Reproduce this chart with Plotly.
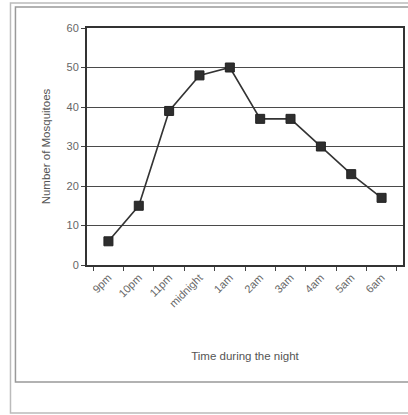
import plotly.graph_objects as go

times = ["9pm", "10pm", "11pm", "midnight", "1am", "2am", "3am", "4am", "5am", "6am"]
mosquitoes = [6, 15, 39, 48, 50, 37, 37, 30, 23, 17]
y_ticks = [0, 10, 20, 30, 40, 50, 60]

W, H = 408, 415
L, R, T, B = 87, 405, 28, 265

def px(x):
    return (x - L) / (R - L)

def py(y):
    return (B - y) / (B - T)

fig = go.Figure()
fig.add_trace(go.Scatter(
    x=times, y=mosquitoes, mode="lines+markers",
    line=dict(color="#333333", width=1.6),
    marker=dict(symbol="square", size=9, color="#2e2e2e", line=dict(color="#222", width=1)),
    showlegend=False, hoverinfo="skip",
))

font = "Liberation Sans, Arial, sans-serif"
fig.update_layout(
    width=W, height=H,
    margin=dict(l=L, r=W - R, t=T, b=H - B),
    paper_bgcolor="white", plot_bgcolor="white",
    font=dict(family=font, color="#555555", size=10),
    xaxis=dict(
        type="category", tickson="boundaries", ticks="outside", ticklen=4,
        tickcolor="#444", tickangle=-45, showgrid=False,
        showline=True, linecolor="#333", linewidth=2, mirror=True,
        tickfont=dict(size=11, color="#666"),
        title=dict(text="Time during the night", font=dict(size=11.5, color="#555"), standoff=44),
    ),
    yaxis=dict(
        range=[0, 60], tickvals=y_ticks, ticks="outside", ticklen=4, tickcolor="#444",
        showgrid=True, gridcolor="#4a4a4a", gridwidth=1.3,
        showline=True, linecolor="#333", linewidth=2, mirror=True, zeroline=False,
        tickfont=dict(size=11, color="#666"),
        title=dict(text="Number of Mosquitoes", font=dict(size=11.5, color="#555"), standoff=14),
    ),
)

# outer frames
fig.add_shape(type="rect", xref="paper", yref="paper",
              x0=px(15), x1=px(420), y0=py(382), y1=py(7),
              line=dict(color="#999999", width=1.5), layer="below")
fig.add_shape(type="rect", xref="paper", yref="paper",
              x0=px(10), x1=px(420), y0=py(413), y1=py(3),
              line=dict(color="#bbbbbb", width=1.5), layer="below")

fig.write_html("out.html", config={"displayModeBar": False},
               post_script="document.body.style.margin='0px';")
